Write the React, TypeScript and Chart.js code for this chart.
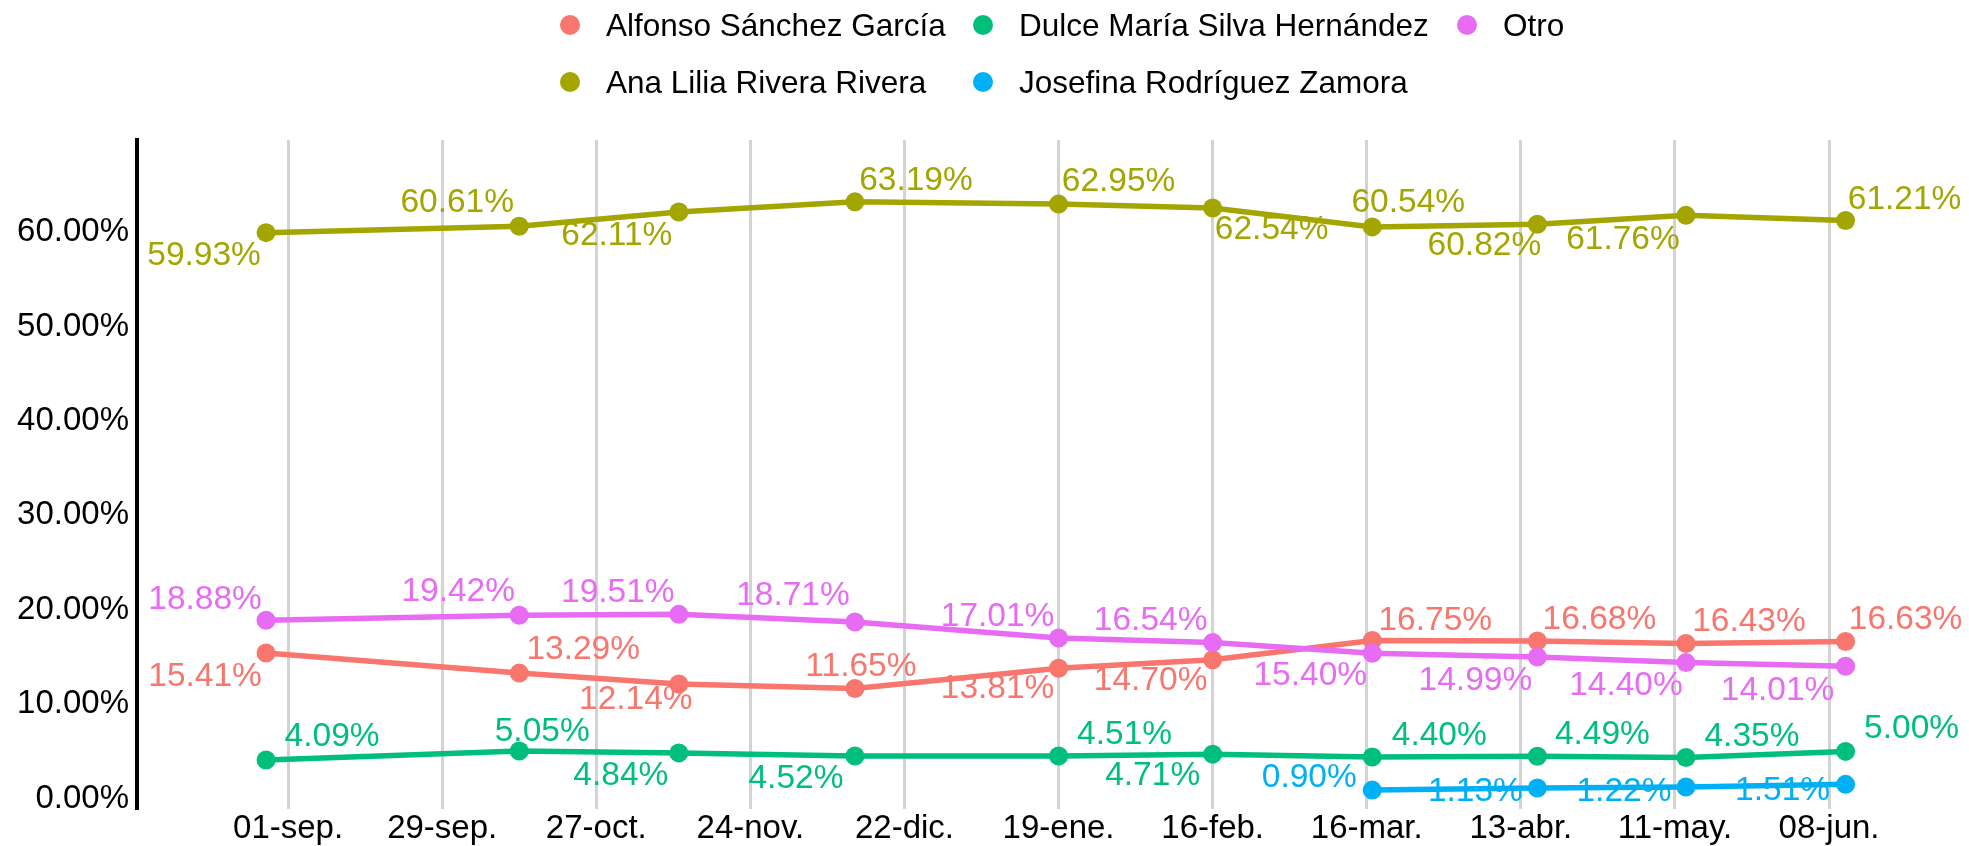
import React, { useEffect, useRef } from 'react';
import { Chart, registerables } from 'chart.js';

Chart.register(...registerables);

// ---------- data ----------
const pollDates = [
  '2020-08-28', '2020-10-13', '2020-11-11', '2020-12-13', '2021-01-19',
  '2021-02-16', '2021-03-17', '2021-04-16', '2021-05-13', '2021-06-11',
];
const tickDates = [
  '2020-09-01', '2020-09-29', '2020-10-27', '2020-11-24', '2020-12-22', '2021-01-19',
  '2021-02-16', '2021-03-16', '2021-04-13', '2021-05-11', '2021-06-08',
];
const tickLabels = [
  '01-sep.', '29-sep.', '27-oct.', '24-nov.', '22-dic.', '19-ene.',
  '16-feb.', '16-mar.', '13-abr.', '11-may.', '08-jun.',
];
const yTicks = [0, 10, 20, 30, 40, 50, 60];

const alfonso = [15.41, 13.29, 12.14, 11.65, 13.81, 14.70, 16.75, 16.68, 16.43, 16.63];
const anaLilia = [59.93, 60.61, 62.11, 63.19, 62.95, 62.54, 60.54, 60.82, 61.76, 61.21];
const dulce = [4.09, 5.05, 4.84, 4.52, 4.51, 4.71, 4.40, 4.49, 4.35, 5.00];
const josefina = [null, null, null, null, null, null, 0.90, 1.13, 1.22, 1.51];
const otro = [18.88, 19.42, 19.51, 18.71, 17.01, 16.54, 15.40, 14.99, 14.40, 14.01];

// ---------- label placement (pixel offsets from each point, repel-style) ----------
const alfonsoLabelOffsets = [[-61, 24], [64, -23], [-43, 16], [6, -22], [-61, 21], [-62, 21], [63, -20], [62, -21], [63, -22], [60, -22]];
const anaLabelOffsets = [[-62, 23], [-62, -23], [-62, 24], [61, -21], [60, -22], [59, 22], [36, -24], [-53, 22], [-63, 24], [59, -21]];
const dulceLabelOffsets = [[66, -23], [23, -19], [-58, 23], [-59, 23], [66, -21], [-60, 22], [67, -21], [65, -21], [66, -21], [66, -23]];
const josefinaLabelOffsets = [null, null, null, null, null, null, [-63, -12], [-62, 4], [-62, 5], [-63, 6]];
const otroLabelOffsets = [[-61, -21], [-61, -23], [-61, -22], [-62, -26], [-61, -21], [-62, -22], [-62, 23], [-62, 24], [-60, 23], [-68, 24]];

const COLORS = {
  alfonso: '#F8766D',
  ana: '#A3A500',
  dulce: '#00BF7D',
  josefina: '#00B0F6',
  otro: '#E76BF3',
};

const FONT = '"Liberation Sans", Arial, Helvetica, sans-serif';

const W = 1969;
const H = 846;

const dayOffset = (d: string) =>
  (Date.parse(d) - Date.parse(tickDates[0])) / 86400000;

const toPoints = (vals: (number | null)[]) =>
  pollDates.map((d, i) => ({ x: dayOffset(d), y: vals[i] }));

// legend layout
const legendItems = [
  { name: 'Alfonso Sánchez García', color: COLORS.alfonso, col: 0, row: 0 },
  { name: 'Ana Lilia Rivera Rivera', color: COLORS.ana, col: 0, row: 1 },
  { name: 'Dulce María Silva Hernández', color: COLORS.dulce, col: 1, row: 0 },
  { name: 'Josefina Rodríguez Zamora', color: COLORS.josefina, col: 1, row: 1 },
  { name: 'Otro', color: COLORS.otro, col: 2, row: 0 },
];
const legendColX = [570, 983, 1467];
const legendRowY = [25, 81.7];

const labelPlugin = {
  id: 'repelLabels',
  afterDatasetsDraw(chart: any) {
    const ctx = chart.ctx;
    ctx.save();
    ctx.font = `33.5px ${FONT}`;
    ctx.textAlign = 'center';
    ctx.textBaseline = 'middle';
    chart.data.datasets.forEach((ds: any, di: number) => {
      const meta = chart.getDatasetMeta(di);
      const offs = ds.labelOffsets;
      meta.data.forEach((pt: any, i: number) => {
        const v = ds.data[i].y;
        const off = offs[i];
        if (v == null || !off) return;
        ctx.fillStyle = ds.borderColor;
        ctx.fillText(v.toFixed(2) + '%', pt.x + off[0], pt.y + off[1]);
      });
    });
    ctx.restore();
  },
};

export default function App() {
  const canvasRef = useRef<HTMLCanvasElement | null>(null);

  useEffect(() => {
    if (!canvasRef.current) return;
    const mk = (label: string, vals: (number | null)[], color: string, offs: any, order: number) => ({
      label,
      data: toPoints(vals),
      borderColor: color,
      backgroundColor: color,
      pointBackgroundColor: color,
      pointBorderWidth: 0,
      pointRadius: 9.5,
      borderWidth: 5.5,
      tension: 0,
      spanGaps: false,
      order,
      labelOffsets: offs,
    });

    const chart = new Chart(canvasRef.current, {
      type: 'line',
      data: {
        datasets: [
          mk('Alfonso Sánchez García', alfonso, COLORS.alfonso, alfonsoLabelOffsets, 5),
          mk('Ana Lilia Rivera Rivera', anaLilia, COLORS.ana, anaLabelOffsets, 4),
          mk('Dulce María Silva Hernández', dulce, COLORS.dulce, dulceLabelOffsets, 3),
          mk('Josefina Rodríguez Zamora', josefina, COLORS.josefina, josefinaLabelOffsets, 2),
          mk('Otro', otro, COLORS.otro, otroLabelOffsets, 1),
        ] as any,
      },
      options: {
        responsive: false,
        animation: false,
        events: [],
        layout: { padding: { top: 140, left: 0, right: 7, bottom: 0 } },
        plugins: {
          legend: { display: false },
          tooltip: { enabled: false },
        },
        scales: {
          x: {
            type: 'linear',
            min: -27.45,
            max: 303.7,
            bounds: 'data',
            grid: { display: true, color: '#d3d3d3', lineWidth: 3, drawTicks: false },
            border: { display: false },
            ticks: {
              autoSkip: false,
              maxRotation: 0,
              minRotation: 0,
              padding: 0,
              color: '#000',
              font: { family: FONT, size: 33 },
              callback: (_v: any, i: number) => tickLabels[i],
            },
            afterBuildTicks: (scale: any) => {
              scale.ticks = tickDates.map((d) => ({ value: dayOffset(d) }));
            },
            afterFit: (scale: any) => {
              scale.height = 37;
              scale.paddingLeft = 0;
              scale.paddingRight = 0;
              scale.paddingTop = 0;
              scale.paddingBottom = 0;
            },
          },
          y: {
            type: 'linear',
            min: -1.1,
            max: 69.74,
            bounds: 'data',
            grid: { display: false, drawTicks: false },
            border: { display: true, color: '#000', width: 4 },
            ticks: {
              padding: 8,
              color: '#000',
              font: { family: FONT, size: 33 },
              callback: (v: any) => Number(v).toFixed(2) + '%',
            },
            afterBuildTicks: (scale: any) => {
              scale.ticks = yTicks.map((v) => ({ value: v }));
            },
            afterFit: (scale: any) => {
              scale.width = 137;
              scale.paddingLeft = 0;
              scale.paddingRight = 0;
              scale.paddingTop = 0;
              scale.paddingBottom = 0;
            },
          },
        },
      } as any,
      plugins: [labelPlugin],
    });
    return () => chart.destroy();
  }, []);

  return (
    <div style={{ position: 'absolute', left: 0, top: 0, width: W, height: H, background: '#fff', overflow: 'hidden' }}>
      <canvas ref={canvasRef} width={W} height={H} style={{ display: 'block', position: 'absolute', left: 0, top: 0 }} />
      {legendItems.map((it) => {
        const cx = legendColX[it.col];
        const cy = legendRowY[it.row];
        return (
          <React.Fragment key={it.name}>
            <div
              style={{
                position: 'absolute',
                left: cx - 10,
                top: cy - 10,
                width: 20,
                height: 20,
                borderRadius: '50%',
                background: it.color,
              }}
            />
            <div
              style={{
                position: 'absolute',
                left: cx + 36,
                top: cy - 20,
                height: 40,
                lineHeight: '40px',
                fontFamily: FONT,
                fontSize: 31.5,
                color: '#000',
                whiteSpace: 'nowrap',
              }}
            >
              {it.name}
            </div>
          </React.Fragment>
        );
      })}
    </div>
  );
}
